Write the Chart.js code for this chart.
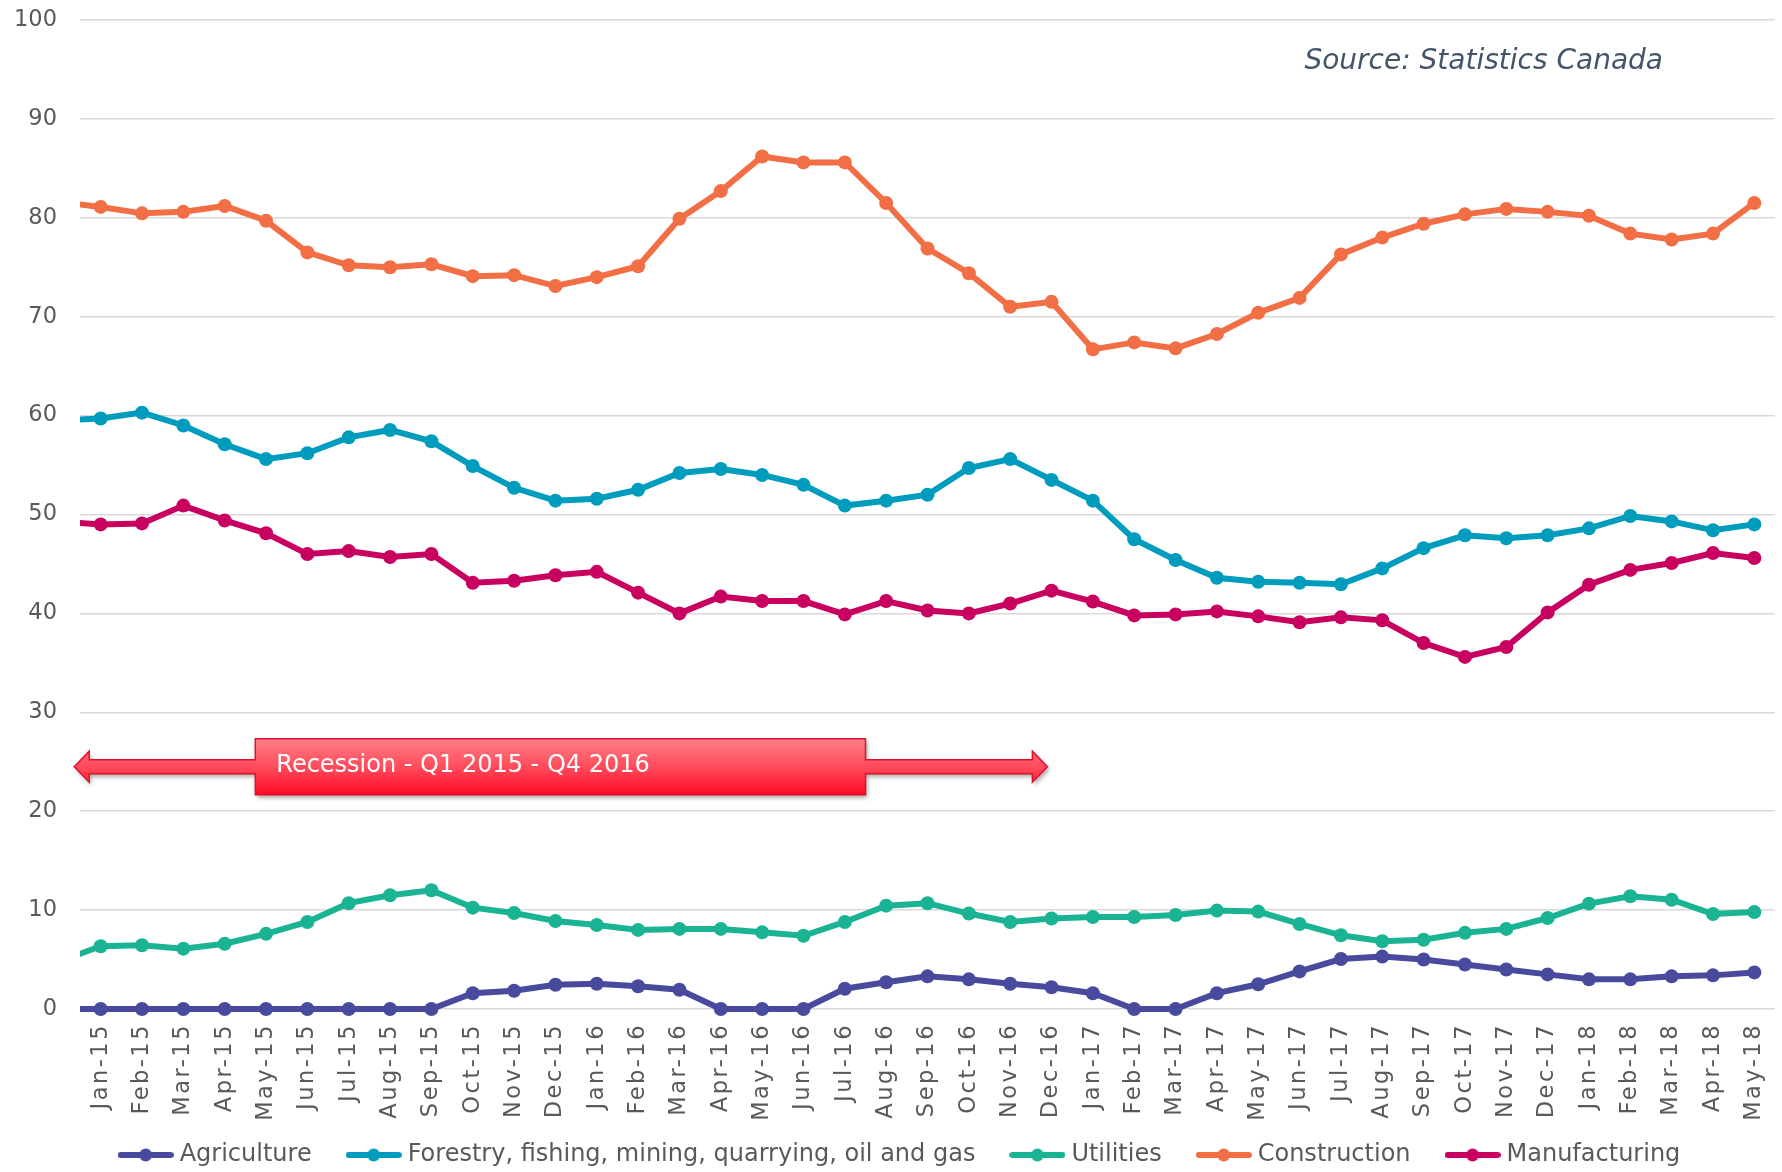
<!DOCTYPE html>
<html>
<head>
<meta charset="utf-8">
<script src="https://cdn.jsdelivr.net/npm/chart.js@4.4.1/dist/chart.umd.min.js"></script>
<style>
  html, body { margin: 0; padding: 0; background: #fff; }
  #wrap { width: 1782px; height: 1172px; position: relative; }
</style>
</head>
<body>
<div id="wrap"><canvas id="chart"></canvas></div>
<script>
// monthly series, Dec-14 is only there so the lines run in from the left edge
const months = [
  "Dec-14",
  "Jan-15", "Feb-15", "Mar-15", "Apr-15", "May-15", "Jun-15", "Jul-15", "Aug-15", "Sep-15", "Oct-15", "Nov-15", "Dec-15",
  "Jan-16", "Feb-16", "Mar-16", "Apr-16", "May-16", "Jun-16", "Jul-16", "Aug-16", "Sep-16", "Oct-16", "Nov-16", "Dec-16",
  "Jan-17", "Feb-17", "Mar-17", "Apr-17", "May-17", "Jun-17", "Jul-17", "Aug-17", "Sep-17", "Oct-17", "Nov-17", "Dec-17",
  "Jan-18", "Feb-18", "Mar-18", "Apr-18", "May-18",
];

const agriculture = [
  0,
  0, 0, 0, 0, 0, 0, 0, 0, 0, 1.6, 1.85, 2.45,
  2.55, 2.3, 1.95, 0, 0, 0, 2.05, 2.7, 3.3, 3.0, 2.55, 2.2,
  1.6, 0, 0, 1.6, 2.5, 3.8, 5.05, 5.3, 5.0, 4.5, 4.0, 3.5,
  3.0, 3.0, 3.3, 3.4, 3.7,
];

const forestry = [
  59.5,
  59.7, 60.3, 59.0, 57.1, 55.6, 56.2, 57.8, 58.55, 57.4, 54.9, 52.7, 51.4,
  51.6, 52.5, 54.2, 54.6, 54.0, 53.0, 50.9, 51.4, 52.0, 54.7, 55.6, 53.5,
  51.4, 47.5, 45.4, 43.6, 43.2, 43.1, 42.95, 44.55, 46.6, 47.9, 47.6, 47.9,
  48.6, 49.85, 49.3, 48.4, 49.0,
];

const utilities = [
  4.8,
  6.35, 6.45, 6.1, 6.6, 7.6, 8.8, 10.7, 11.5, 12.0, 10.25, 9.7, 8.9,
  8.5, 8.0, 8.1, 8.1, 7.75, 7.4, 8.8, 10.45, 10.7, 9.65, 8.8, 9.15,
  9.3, 9.3, 9.5, 9.95, 9.85, 8.6, 7.45, 6.85, 7.0, 7.7, 8.1, 9.2,
  10.65, 11.4, 11.05, 9.6, 9.8,
];

const construction = [
  81.6,
  81.1, 80.45, 80.6, 81.2, 79.7, 76.5, 75.2, 75.0, 75.3, 74.1, 74.2, 73.1,
  74.0, 75.1, 79.9, 82.7, 86.2, 85.6, 85.6, 81.5, 76.9, 74.4, 71.0, 71.5,
  66.7, 67.4, 66.8, 68.25, 70.4, 71.9, 76.3, 78.0, 79.4, 80.35, 80.9, 80.6,
  80.2, 78.4, 77.8, 78.4, 81.5,
];

const manufacturing = [
  49.3,
  49.0, 49.1, 50.9, 49.4, 48.1, 46.0, 46.3, 45.7, 46.0, 43.1, 43.3, 43.85,
  44.2, 42.1, 40.0, 41.7, 41.25, 41.25, 39.9, 41.25, 40.3, 40.0, 41.0, 42.3,
  41.2, 39.8, 39.9, 40.2, 39.7, 39.1, 39.6, 39.3, 37.0, 35.6, 36.6, 40.1,
  42.9, 44.4, 45.1, 46.1, 45.6,
];

const seriesNames = [
  "Agriculture",
  "Forestry, fishing, mining, quarrying, oil and gas",
  "Utilities",
  "Construction",
  "Manufacturing",
];
const seriesValues = [agriculture, forestry, utilities, construction, manufacturing];
const seriesColors = ["#484a9e", "#009cbd", "#1ab394", "#f26e45", "#c8005f"];

const yTicks = [0, 10, 20, 30, 40, 50, 60, 70, 80, 90, 100];

// recession callout, x given as index into months (Dec-14 = 0)
const recession = {
  text: "Recession - Q1 2015 - Q4 2016",
  from: 0.36,
  to: 23.9,
  boxFrom: 4.74,
  boxTo: 19.5,
  value: 24.5,
};

const FONT = "'DejaVu Sans', Verdana, sans-serif";
const TEXT_GREY = "#595959";

// x labels: extra letter spacing, and no clipping to the axis box
class SpacedCategoryScale extends Chart.CategoryScale {
  _computeLabelArea() {
    return undefined;
  }
  drawLabels(area) {
    this.ctx.save();
    this.ctx.letterSpacing = "2.5px";
    super.drawLabels(area);
    this.ctx.restore();
  }
}
SpacedCategoryScale.id = "spacedCategory";
SpacedCategoryScale.defaults = Chart.CategoryScale.defaults;
Chart.register(SpacedCategoryScale);

function legendIcon(color) {
  const c = document.createElement("canvas");
  c.width = 56;
  c.height = 16;
  const g = c.getContext("2d");
  g.strokeStyle = color;
  g.lineWidth = 6;
  g.lineCap = "round";
  g.beginPath();
  g.moveTo(3, 8);
  g.lineTo(53, 8);
  g.stroke();
  g.fillStyle = color;
  g.beginPath();
  g.arc(28, 8, 6.5, 0, Math.PI * 2);
  g.fill();
  return c;
}
const icons = seriesColors.map(legendIcon);

// nudge the legend row a little to the right
const legendShift = {
  id: "legendShift",
  afterLayout(chart) {
    chart.legend.left += 12;
    chart.legend.right += 12;
  },
};

const sourcePlugin = {
  id: "sourceNote",
  afterDraw(chart) {
    const ctx = chart.ctx;
    const area = chart.chartArea;
    ctx.save();
    ctx.font = "italic 28px " + FONT;
    ctx.fillStyle = "#44546a";
    ctx.textAlign = "right";
    ctx.textBaseline = "middle";
    ctx.fillText("Source: Statistics Canada", area.right - 112, area.top + 42);
    ctx.restore();
  },
};

const recessionPlugin = {
  id: "recessionArrow",
  afterDatasetsDraw(chart) {
    const ctx = chart.ctx;
    const x = chart.scales.x;
    const y = chart.scales.y;
    const xL = x.getPixelForValue(recession.from);
    const xR = x.getPixelForValue(recession.to);
    const b1 = x.getPixelForValue(recession.boxFrom);
    const b2 = x.getPixelForValue(recession.boxTo);
    const yc = y.getPixelForValue(recession.value);
    const boxH = 28, shaft = 7, head = 15.5, headLen = 15;

    ctx.save();
    ctx.beginPath();
    ctx.moveTo(xL, yc);
    ctx.lineTo(xL + headLen, yc - head);
    ctx.lineTo(xL + headLen, yc - shaft);
    ctx.lineTo(b1, yc - shaft);
    ctx.lineTo(b1, yc - boxH);
    ctx.lineTo(b2, yc - boxH);
    ctx.lineTo(b2, yc - shaft);
    ctx.lineTo(xR - headLen, yc - shaft);
    ctx.lineTo(xR - headLen, yc - head);
    ctx.lineTo(xR, yc);
    ctx.lineTo(xR - headLen, yc + head);
    ctx.lineTo(xR - headLen, yc + shaft);
    ctx.lineTo(b2, yc + shaft);
    ctx.lineTo(b2, yc + boxH);
    ctx.lineTo(b1, yc + boxH);
    ctx.lineTo(b1, yc + shaft);
    ctx.lineTo(xL + headLen, yc + shaft);
    ctx.lineTo(xL + headLen, yc + head);
    ctx.closePath();

    const grad = ctx.createLinearGradient(0, yc - boxH, 0, yc + boxH);
    grad.addColorStop(0, "#ff7f87");
    grad.addColorStop(0.5, "#ff4c5c");
    grad.addColorStop(1, "#ff0a26");
    ctx.shadowColor = "rgba(0,0,0,0.35)";
    ctx.shadowBlur = 4;
    ctx.shadowOffsetX = 2;
    ctx.shadowOffsetY = 3;
    ctx.fillStyle = grad;
    ctx.fill();
    ctx.shadowColor = "transparent";
    ctx.lineWidth = 1.5;
    ctx.strokeStyle = "#e0102c";
    ctx.stroke();

    ctx.font = "24px " + FONT;
    ctx.fillStyle = "#ffffff";
    ctx.textAlign = "left";
    ctx.textBaseline = "middle";
    ctx.fillText(recession.text, b1 + 21, yc - 1);
    ctx.restore();
  },
};

const datasets = seriesNames.map((name, i) => ({
  label: name,
  data: seriesValues[i],
  borderColor: seriesColors[i],
  backgroundColor: seriesColors[i],
  pointBackgroundColor: seriesColors[i],
  pointBorderWidth: 0,
  pointRadius: 7,
  borderWidth: 6,
  tension: 0,
  order: seriesNames.length - i,
  clip: { left: 0, top: false, right: false, bottom: false },
}));

const chart = new Chart(document.getElementById("chart"), {
  type: "line",
  data: { labels: months, datasets: datasets },
  plugins: [recessionPlugin, sourcePlugin, legendShift],
  options: {
    responsive: true,
    maintainAspectRatio: false,
    animation: false,
    layout: { padding: { top: 20, right: 2, left: 0, bottom: 0 } },
    plugins: {
      tooltip: { enabled: false },
      legend: {
        position: "bottom",
        maxHeight: 69,
        labels: {
          usePointStyle: true,
          pointStyleWidth: 44,
          padding: 40,
          color: TEXT_GREY,
          font: { family: FONT, size: 24 },
          generateLabels: (c) =>
            c.data.datasets.map((ds, i) => ({
              text: ds.label,
              pointStyle: icons[i],
              fillStyle: ds.borderColor,
              strokeStyle: ds.borderColor,
              fontColor: TEXT_GREY,
              lineWidth: 0,
              hidden: false,
              datasetIndex: i,
            })),
        },
      },
    },
    scales: {
      x: {
        type: "spacedCategory",
        min: "Jan-15",
        offset: true,
        grid: { display: false },
        border: { display: false },
        ticks: {
          minRotation: 90,
          maxRotation: 90,
          autoSkip: false,
          padding: 6,
          color: TEXT_GREY,
          font: { family: FONT, size: 22.5 },
        },
        afterFit: (s) => {
          s.height = 94;
          s.paddingLeft = 0;
          s.paddingRight = 0;
        },
      },
      y: {
        min: 0,
        max: 100,
        afterBuildTicks: (s) => { s.ticks = yTicks.map((v) => ({ value: v })); },
        grid: { color: "#d9d9d9", lineWidth: 1.5, drawTicks: false },
        border: { display: false },
        ticks: {
          padding: 23,
          color: TEXT_GREY,
          font: { family: FONT, size: 22.5 },
        },
        afterFit: (s) => {
          s.width = 80;
          s.paddingTop = 0;
          s.paddingBottom = 0;
        },
      },
    },
  },
});
</script>
</body>
</html>
